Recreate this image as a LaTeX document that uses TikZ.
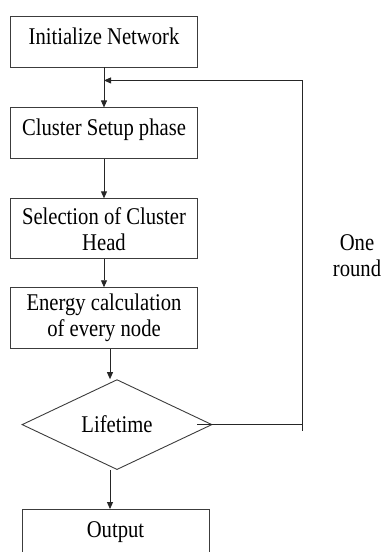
\documentclass[tikz,border=0pt]{standalone}
\usepackage{fontspec}
\setmainfont{Liberation Serif}[FakeStretch=0.86]
\usetikzlibrary{arrows.meta, positioning, shapes.geometric}
\definecolor{linegray}{RGB}{60,60,60}

\begin{document}
\begin{tikzpicture}[
		x=1pt, y=1pt,
		font=\fontsize{24}{26}\selectfont,
		procbox/.style={draw=linegray, line width=0.9pt, minimum width=187.5pt,
			minimum height=51pt, inner sep=0pt, align=center},
		onebox/.style={procbox, text height=16pt, text depth=11pt},
		decision/.style={diamond, draw=linegray, line width=0.9pt, aspect=2.1,
			minimum width=190pt, minimum height=90pt, inner sep=0pt},
		arrow/.style={-{Triangle[length=7pt, width=6pt]}, line width=0.9pt, draw=black!85},
		plainline/.style={line width=0.9pt, draw=black!85}
	]
		\useasboundingbox (0,0) rectangle (384,-552);
		\node[onebox] (init) at (104,-41.5) {Initialize Network};
		\node[onebox, below=40pt of init] (setup) {Cluster Setup phase};
		\node[procbox, minimum height=60pt, below=39pt of setup] (select) {Selection of Cluster\\Head};
		\node[procbox, minimum height=61pt, below=28pt of select] (energy) {Energy calculation\\of every node};
		\node[decision, below=30pt of energy, xshift=13pt] (life) {Lifetime};
		\node[onebox, minimum width=187pt, below=39pt of life, xshift=-1.5pt] (output) {Output};
		\node[align=center] (round) at (357,-256) {One\\round};

		\coordinate[below=13pt of init.south] (join);
		\coordinate[right=90pt of life.east] (corner);

		\draw[arrow] (init) -- (setup);
		\draw[arrow] (setup) -- (select);
		\draw[arrow] (select) -- (energy);
		\draw[arrow] ([xshift=6pt]energy.south) -- ([xshift=6pt]energy.south |- life.north);
		\draw[arrow] ([xshift=-7pt]life.south) -- ([xshift=-7pt]life.south |- output.north);
		\draw[arrow] ([xshift=-15pt]life.east) -- (corner) |- (join);
		\draw[plainline] (corner) -- ++(0,-6);
	\end{tikzpicture}
\end{document}
